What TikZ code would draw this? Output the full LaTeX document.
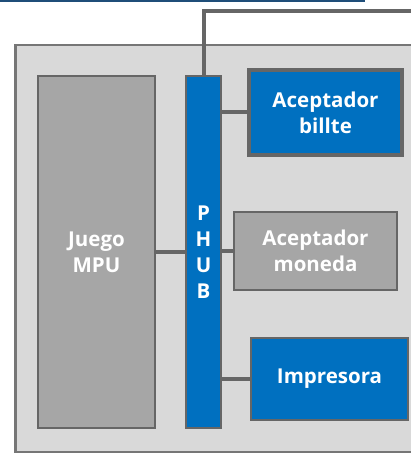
\documentclass[tikz,border=0pt]{standalone}
\usepackage{fontspec}
\setmainfont{Open Sans}
\definecolor{hubblue}{HTML}{0070C0}
\definecolor{boxgray}{HTML}{A6A6A6}
\definecolor{backgray}{HTML}{D9D9D9}
\definecolor{linegray}{HTML}{666666}
\definecolor{framegray}{HTML}{767676}
\definecolor{navy}{HTML}{1F4E79}
\begin{document}
\begin{tikzpicture}[x=1pt, y=-1pt,
    unit/.style={draw=linegray, line width=2pt, text=white, align=center,
      inner sep=0pt, font=\bfseries\fontsize{20.5}{26}\selectfont},
    blueunit/.style={unit, fill=hubblue},
    grayunit/.style={unit, fill=boxgray},
    wire/.style={draw=linegray, line width=4pt}]

  \useasboundingbox (0,0) rectangle (411,454);
  \clip (0,0) rectangle (411,454);

  % frame above and cabinet
  \draw[navy, fill=white, line width=2pt] (-10,-20) rectangle (364,1.5);
  \draw[framegray, fill=backgray, line width=2.5pt] (15.25,45.25) rectangle (430,451.75);

  \node[grayunit, minimum width=117, minimum height=352] (mpu) at (96.5,252) {Juego\\MPU};
  \node[blueunit, minimum width=35, minimum height=352] (hub) at (203.5,252) {P\\H\\U\\B};
  \node[blueunit, line width=4pt, minimum width=153, minimum height=85] (billete) at (325.5,112.5) {Aceptador\\billte};
  \node[grayunit, minimum width=163, minimum height=78] (moneda) at (315.5,251) {Aceptador\\moneda};
  \node[blueunit, minimum width=157, minimum height=82] (impresora) at (329.5,379) {Impresora};

  \coordinate (cable) at (420,11);

  \draw[wire] (mpu.east) -- (hub.west);
  \draw[wire] (billete.west) -- (billete.west -| hub.east);
  \draw[wire] (moneda.west) -- (moneda.west -| hub.east);
  \draw[wire] (impresora.west) -- (impresora.west -| hub.east);
  \draw[wire] (hub.north) |- (cable);
\end{tikzpicture}
\end{document}
